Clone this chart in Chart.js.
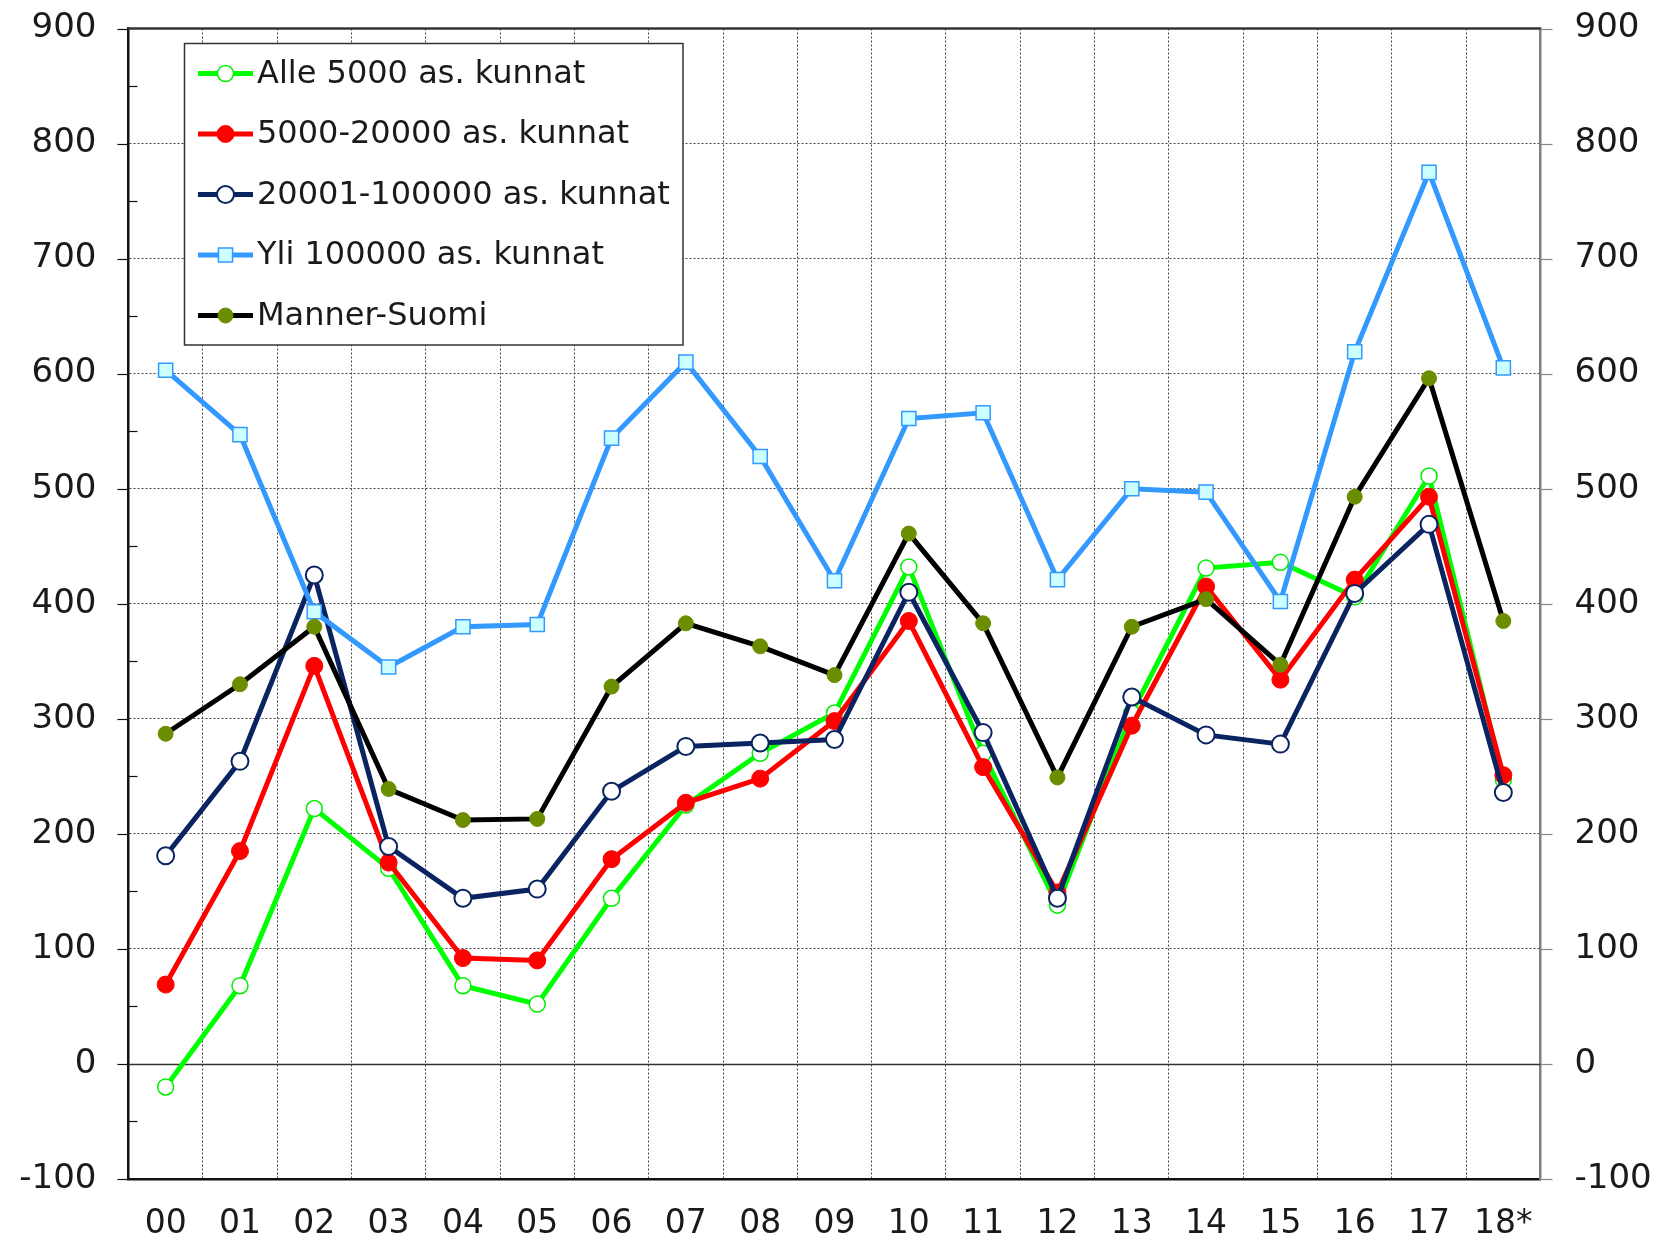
<!DOCTYPE html>
<html>
<head>
<meta charset="utf-8">
<script src="https://cdn.jsdelivr.net/npm/chart.js@4.4.1/dist/chart.umd.min.js"></script>
<style>
  html, body { margin: 0; padding: 0; background: #ffffff; }
  #wrap { width: 1660px; height: 1240px; position: relative; }
</style>
</head>
<body>
<div id="wrap"><canvas id="c" width="1660" height="1240"></canvas></div>
<script>
const categories = ['00','01','02','03','04','05','06','07','08','09','10','11','12','13','14','15','16','17','18*'];

const seriesNames = ['Alle 5000 as. kunnat', '5000-20000 as. kunnat', '20001-100000 as. kunnat', 'Yli 100000 as. kunnat', 'Manner-Suomi'];

const alle5000   = [-20, 68, 222, 170, 68, 52, 144, 225, 270, 305, 432, 270, 138, 305, 431, 436, 406, 511, 247];
const k5000_20000 = [69, 185, 346, 175, 92, 90, 178, 227, 248, 298, 385, 258, 149, 294, 415, 334, 421, 493, 251];
const k20001_100000 = [181, 263, 425, 189, 144, 152, 237, 276, 279, 282, 410, 288, 144, 319, 286, 278, 409, 469, 236];
const yli100000  = [603, 547, 393, 345, 380, 382, 544, 610, 528, 420, 561, 566, 421, 500, 497, 402, 619, 775, 605];
const mannerSuomi = [287, 330, 380, 239, 212, 213, 328, 383, 363, 338, 461, 383, 249, 380, 404, 347, 493, 596, 385];

const yMin = -100, yMax = 900, yStep = 100, yMinorStep = 50;

Chart.defaults.font.family = "'DejaVu Sans', Verdana, sans-serif";
Chart.defaults.font.size = 32;
Chart.defaults.color = '#1a1a1a';

const FONT = "32px 'DejaVu Sans', Verdana, sans-serif";

const extrasPlugin = {
  id: 'extras',
  beforeDatasetsDraw(chart) {
    const ctx = chart.ctx;
    const y = chart.scales.y;
    const y2 = chart.scales.y2;
    const area = chart.chartArea;
    ctx.save();
    const y0 = Math.round(y.getPixelForValue(0)) + 0.5;
    ctx.strokeStyle = '#333333';
    ctx.lineWidth = 1.5;
    ctx.beginPath();
    ctx.moveTo(area.left, y0);
    ctx.lineTo(area.right, y0);
    ctx.stroke();
    ctx.strokeStyle = '#111111';
    ctx.lineWidth = 1.2;
    for (let v = yMin + yMinorStep; v < yMax; v += yStep) {
      const py = Math.round(y.getPixelForValue(v)) + 0.5;
      ctx.beginPath();
      ctx.moveTo(area.left, py);
      ctx.lineTo(area.left + 9, py);
      ctx.stroke();
    }
    for (let v = yMin; v <= yMax; v += yStep) {
      const py = Math.round(y.getPixelForValue(v)) + 0.5;
      ctx.strokeStyle = '#111111';
      ctx.beginPath();
      ctx.moveTo(area.left - 11, py);
      ctx.lineTo(area.left, py);
      ctx.stroke();
      const py2 = Math.round(y2.getPixelForValue(v)) + 0.5;
      ctx.strokeStyle = '#888888';
      ctx.beginPath();
      ctx.moveTo(area.right, py2);
      ctx.lineTo(area.right + 12, py2);
      ctx.stroke();
    }
    ctx.strokeStyle = '#333333';
    ctx.lineWidth = 2.5;
    ctx.beginPath();
    ctx.moveTo(area.left - 1, area.top);
    ctx.lineTo(area.right, area.top);
    ctx.stroke();
    ctx.restore();
  },
  afterDatasetsDraw(chart) {
    const ctx = chart.ctx;
    ctx.save();
    const box = { x: 184.5, y: 43.5, w: 498.5, h: 301.5 };
    ctx.fillStyle = '#ffffff';
    ctx.fillRect(box.x, box.y, box.w, box.h);
    ctx.strokeStyle = '#333333';
    ctx.lineWidth = 1.5;
    ctx.strokeRect(box.x, box.y, box.w, box.h);
    const rowY0 = 73.5, rowStep = 60.5;
    chart.data.datasets.forEach((ds, i) => {
      const ry = rowY0 + i * rowStep;
      ctx.strokeStyle = ds.borderColor;
      ctx.lineWidth = 5;
      ctx.beginPath();
      ctx.moveTo(198, ry);
      ctx.lineTo(253, ry);
      ctx.stroke();
      ctx.fillStyle = ds.pointBackgroundColor;
      ctx.strokeStyle = ds.pointBorderColor;
      ctx.lineWidth = ds.pointBorderWidth;
      Chart.helpers.drawPoint(ctx, {
        pointStyle: ds.pointStyle,
        radius: ds.pointRadius,
        rotation: 0,
        borderWidth: ds.pointBorderWidth
      }, 225.5, ry);
      ctx.fillStyle = '#1a1a1a';
      ctx.font = FONT;
      ctx.textAlign = 'left';
      ctx.textBaseline = 'middle';
      ctx.fillText(ds.label, 257, ry + 1);
    });
    ctx.restore();
  }
};

function mkDs(label, data, color, style, radius, bg, border, bw, order) {
  return {
    label, data,
    borderColor: color,
    backgroundColor: color,
    borderWidth: 5,
    tension: 0,
    fill: false,
    pointStyle: style,
    pointRadius: radius,
    pointHoverRadius: radius,
    pointBackgroundColor: bg,
    pointBorderColor: border,
    pointBorderWidth: bw,
    order
  };
}

new Chart(document.getElementById('c'), {
  type: 'line',
  data: {
    labels: categories,
    datasets: [
      mkDs(seriesNames[0], alle5000, '#00ff00', 'circle', 8, '#ffffff', '#00ee00', 1.5, 5),
      mkDs(seriesNames[1], k5000_20000, '#ff0000', 'circle', 8.5, '#ff0000', '#ff0000', 1, 4),
      mkDs(seriesNames[2], k20001_100000, '#0a2462', 'circle', 8.5, '#ffffff', '#0a2462', 2, 3),
      mkDs(seriesNames[3], yli100000, '#3399ff', 'rect', 10, '#ccffff', '#3399ff', 1.5, 2),
      mkDs(seriesNames[4], mannerSuomi, '#000000', 'circle', 7.5, '#6b8e00', '#6b8e00', 1, 1)
    ]
  },
  options: {
    responsive: false,
    animation: false,
    devicePixelRatio: 1,
    layout: { padding: { top: 28.5, left: 0, right: 0, bottom: 0 } },
    plugins: { legend: { display: false }, tooltip: { enabled: false } },
    scales: {
      x: {
        type: 'category',
        offset: true,
        grid: { offset: true, color: '#444444', lineWidth: 1, drawTicks: false },
        border: { display: true, color: '#111111', width: 2.5, dash: [2, 2] },
        ticks: { padding: 26, color: '#1a1a1a', font: { size: 33 }, maxRotation: 0, autoSkip: false },
        afterFit(s) { s.height = 61; }
      },
      y: {
        position: 'left',
        min: yMin, max: yMax,
        ticks: { stepSize: yStep, padding: 1, color: '#1a1a1a', font: { size: 34 } },
        grid: {
          color: (c) => (c.tick && c.tick.value === 0) ? 'rgba(0,0,0,0)' : '#444444',
          lineWidth: 1,
          drawTicks: true,
          tickLength: 31,
          tickColor: 'rgba(0,0,0,0)',
          tickBorderDash: []
        },
        border: { display: true, color: '#111111', width: 2.5, dash: [2, 2] },
        afterFit(s) { s.width = 128.5; }
      },
      y2: {
        position: 'right',
        min: yMin, max: yMax,
        ticks: { stepSize: yStep, padding: 3, color: '#1a1a1a', font: { size: 34 } },
        grid: { drawOnChartArea: false, drawTicks: true, tickLength: 31, tickColor: 'rgba(0,0,0,0)', color: 'rgba(0,0,0,0)' },
        border: { display: true, color: '#808080', width: 2.5 },
        afterFit(s) { s.width = 119.5; }
      }
    }
  },
  plugins: [extrasPlugin]
});
</script>
</body>
</html>
